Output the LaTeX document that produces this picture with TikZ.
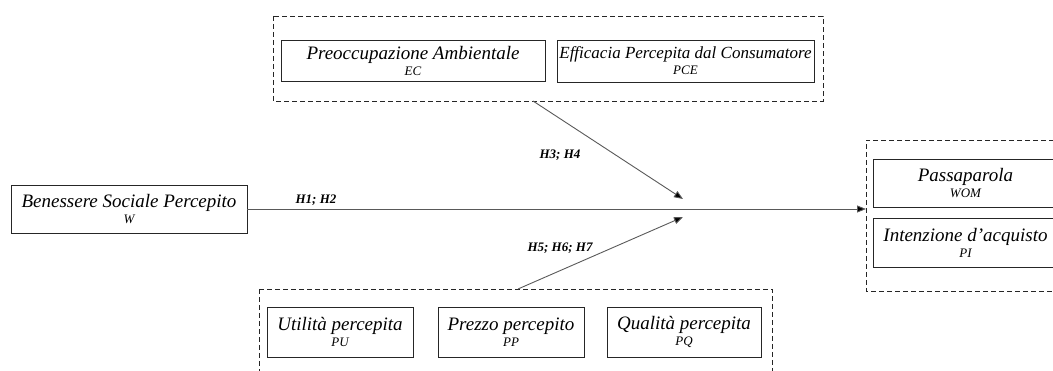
\documentclass[tikz,border=0pt]{standalone}
\usepackage{fontspec}
\setmainfont{Liberation Serif}
\usetikzlibrary{arrows.meta}
\tikzset{
  x=1pt, y=-1pt,
  var/.style={draw=black!85, line width=0.9pt, inner sep=0pt, align=center,
    font=\fontsize{19}{18}\selectfont\itshape},
  grp/.style={draw=black!85, line width=0.9pt, dash pattern=on 5pt off 3pt},
  conn/.style={draw=black!65, line width=0.9pt, -{Triangle[length=9pt,width=7pt,fill=black]}},
  hlab/.style={font=\fontsize{13}{13}\selectfont\bfseries\itshape, inner sep=0pt}
}
\newcommand{\sublab}[1]{\\[-2pt]{\fontsize{13}{13}\selectfont #1}}
\begin{document}
\begin{tikzpicture}
\useasboundingbox (0,0) rectangle (1053,371);
\clip (0,0) rectangle (1053,371);
% groups
\draw[grp] (273,16) rectangle (823,101);
\draw[grp] (259,289) -- (772,289) -- (772,380);
\draw[grp] (259,289) -- (259,380);
\draw[grp] (1070,140) -- (866,140) -- (866,291) -- (1070,291);
% variables
\node[var, minimum width=236, minimum height=48] (W) at (129,209) {Benessere Sociale Percepito\sublab{W}};
\node[var, minimum width=264, minimum height=41] (EC) at (413,60.5) {Preoccupazione Ambientale\sublab{EC}};
\node[var, minimum width=257, minimum height=42, font=\fontsize{17}{18}\selectfont\itshape] (PCE) at (685.5,61) {Efficacia Percepita dal Consumatore\sublab{PCE}};
\node[var, minimum width=146, minimum height=50] (PU) at (340,332) {Utilità percepita\sublab{PU}};
\node[var, minimum width=146, minimum height=50] (PP) at (511,332) {Prezzo percepito\sublab{PP}};
\node[var, minimum width=154, minimum height=50] (PQ) at (684,332) {Qualità percepita\sublab{PQ}};
\node[var, minimum width=185, minimum height=48] (WOM) at (965.5,183) {Passaparola\sublab{WOM}};
\node[var, minimum width=185, minimum height=49] (PI) at (965.5,242.5) {Intenzione d’acquisto\sublab{PI}};
% connector endpoints
\coordinate (topstart) at (533,101);
\coordinate (botstart) at (518,289);
\coordinate (topend) at (683,199);
\coordinate (botend) at (683,217);
\coordinate (outend) at (866,209);
\draw[conn] (W.east) -- (outend);
\draw[conn] (topstart) -- (topend);
\draw[conn] (botstart) -- (botend);
% labels
\node[hlab] (h12) at (316,200) {H1; H2};
\node[hlab] (h34) at (560,155) {H3; H4};
\node[hlab] (h567) at (560,248) {H5; H6; H7};
\end{tikzpicture}
\end{document}
